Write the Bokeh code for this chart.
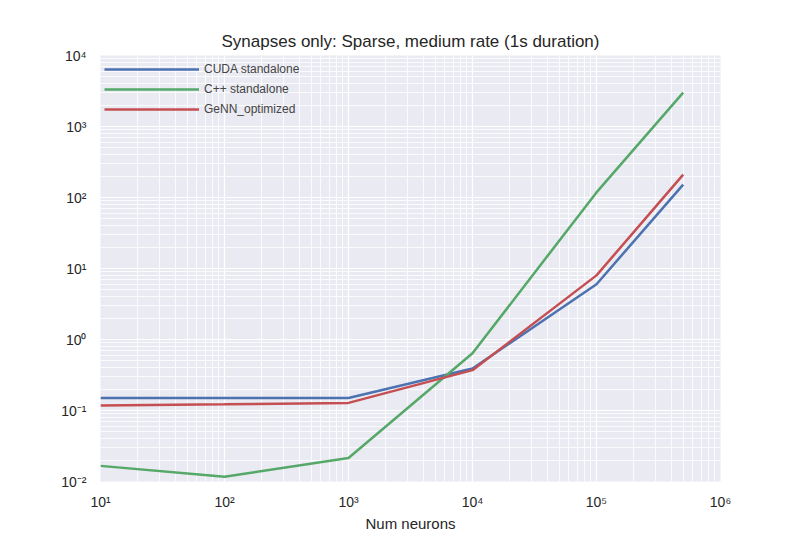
from bokeh.plotting import figure
from bokeh.models import CustomJSTickFormatter, LogTicker, Range1d
from bokeh.embed import file_html
from bokeh.resources import INLINE

# Data
NUM_NEURONS = [10, 100, 1000, 10000, 100000, 500000]
CUDA_STANDALONE = [0.15, 0.15, 0.15, 0.39, 6.0, 152]
CPP_STANDALONE = [0.0166, 0.0117, 0.0214, 0.64, 118, 3000]
GENN_OPTIMIZED = [0.118, 0.122, 0.128, 0.37, 8.0, 210]

FONT = "Liberation Sans"

p = figure(width=784, height=534, x_axis_type="log", y_axis_type="log",
           x_range=Range1d(10, 1e6), y_range=Range1d(1e-2, 1e4),
           output_backend="svg", toolbar_location=None,
           title="Synapses only: Sparse, medium rate (1s duration)",
           min_border_left=100, min_border_right=64, min_border_top=55, min_border_bottom=40)

p.title.align = "center"
p.title.text_font = FONT
p.title.text_font_size = "17px"
p.title.text_font_style = "normal"
p.title.text_color = "#262626"

p.background_fill_color = "#EAEAF2"
p.border_fill_color = "white"
p.outline_line_color = None

fmt = CustomJSTickFormatter(code="""
const sup = {'-':'\u207b','0':'\u2070','1':'\u00b9','2':'\u00b2','3':'\u00b3','4':'\u2074','5':'\u2075','6':'\u2076','7':'\u2077','8':'\u2078','9':'\u2079'};
const e = Math.round(Math.log10(tick));
return '10' + String(e).split('').map(c => sup[c]).join('');
""")

for ax in (p.xaxis, p.yaxis):
    ax.axis_line_color = None
    ax.major_tick_line_color = None
    ax.minor_tick_line_color = None
    ax.major_label_text_font = FONT
    ax.major_label_text_font_size = "14px"
    ax.major_label_text_color = "#262626"
    ax.formatter = fmt
    ax.ticker = LogTicker(num_minor_ticks=10, desired_num_ticks=6)

p.xaxis.axis_label = "Num neurons"
p.xaxis.axis_label_text_font = FONT
p.xaxis.axis_label_text_font_size = "15px"
p.xaxis.axis_label_text_font_style = "normal"
p.xaxis.axis_label_text_color = "#262626"
p.xaxis.axis_label_standoff = 2
p.xaxis.major_label_standoff = 6
p.yaxis.major_label_standoff = 8

for g in (p.xgrid, p.ygrid):
    g.grid_line_color = "white"
    g.grid_line_width = 1.2
    g.minor_grid_line_color = "white"
    g.minor_grid_line_width = 0.8

p.line(NUM_NEURONS, CUDA_STANDALONE, line_color="#4C72B0", line_width=2.5, legend_label="CUDA standalone")
p.line(NUM_NEURONS, CPP_STANDALONE, line_color="#55A868", line_width=2.5, legend_label="C++ standalone")
p.line(NUM_NEURONS, GENN_OPTIMIZED, line_color="#C44E52", line_width=2.5, legend_label="GeNN_optimized")

p.legend.location = "top_left"
p.legend.background_fill_alpha = 0
p.legend.border_line_color = None
p.legend.label_text_font = FONT
p.legend.label_text_font_size = "12px"
p.legend.label_height = 12
p.legend.glyph_width = 95
p.legend.spacing = 0
p.legend.padding = 4
p.legend.margin = 4

open("out.html", "w").write(file_html(p, INLINE))
